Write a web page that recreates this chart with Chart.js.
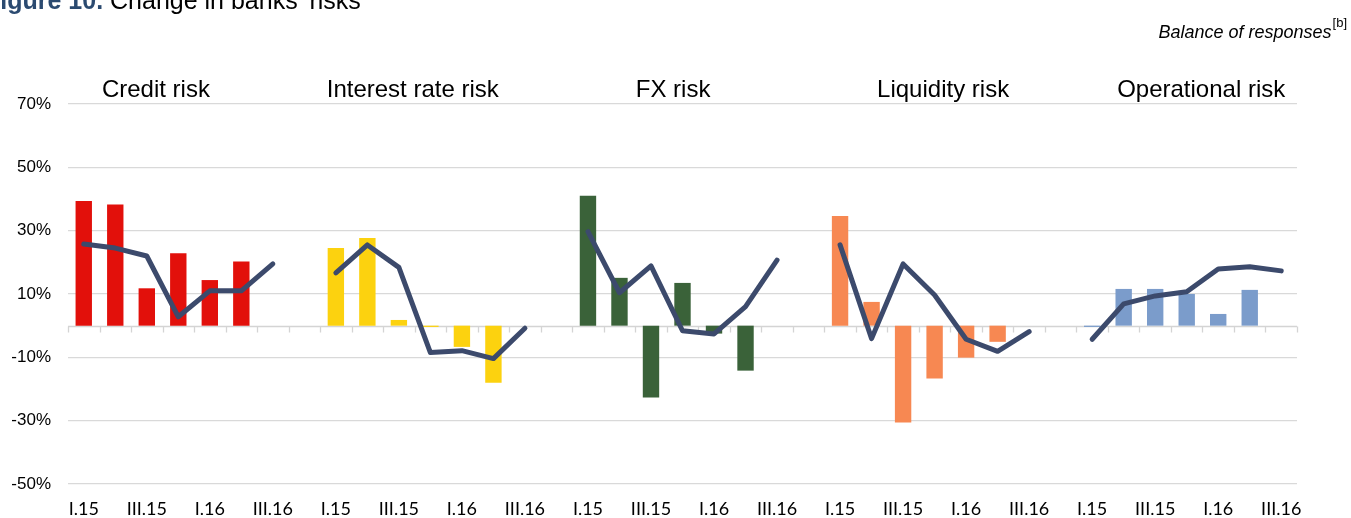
<!DOCTYPE html>
<html>
<head>
<meta charset="utf-8">
<script src="https://cdn.jsdelivr.net/npm/chart.js@4.4.1/dist/chart.umd.min.js"></script>
<style>
  html, body { margin: 0; padding: 0; background: #ffffff; }
  #wrap { position: relative; width: 1351px; height: 518px; }
</style>
</head>
<body>
<div id="wrap"><canvas id="c" width="1351" height="518"></canvas></div>
<script>
// Survey quarters shown for each risk type
const quarters = ['I.15', 'II.15', 'III.15', 'IV.15', 'I.16', 'II.16', 'III.16'];
const groupNames = ['Credit risk', 'Interest rate risk', 'FX risk', 'Liquidity risk', 'Operational risk'];
const groupColors = ['#e2100b', '#fcd20f', '#3a6239', '#f78852', '#7b9ccb'];
const lineColor = '#3c4a6c';
const yTickValues = [-50, -30, -10, 10, 30, 50, 70];

// Bars: balance of responses (%) per quarter
const creditBars      = [39.4, 38.3, 11.8, 22.9, 14.4, 20.3, null];
const interestBars    = [24.5, 27.7, 1.8, -0.4, -6.7, -18.0, null];
const fxBars          = [41.0, 15.1, -22.7, 13.5, -2.5, -14.2, null];
const liquidityBars   = [34.6, 7.5, -30.6, -16.7, -10.1, -5.1, null];
const operationalBars = [-0.4, 11.6, 11.6, 10.0, 3.7, 11.3, null];

// Line: balance of responses (%) per quarter
const creditLine      = [25.8, 24.5, 22.0, 2.8, 11.0, 11.0, 19.5];
const interestLine    = [16.7, 25.5, 18.4, -8.5, -7.9, -10.4, -0.8];
const fxLine          = [29.7, 10.4, 18.9, -1.6, -2.6, 6.0, 20.7];
const liquidityLine   = [25.5, -4.1, 19.5, 9.7, -4.3, -8.1, -1.9];
const operationalLine = [-4.3, 6.9, 9.4, 10.7, 17.9, 18.6, 17.3];

// Where each group heading sits, in category units
const headingAnchors = [2.29, 10.44, 18.7, 27.27, 35.46];

const barGroups = [creditBars, interestBars, fxBars, liquidityBars, operationalBars];
const lineGroups = [creditLine, interestLine, fxLine, liquidityLine, operationalLine];

// One shared category axis: the five groups separated by an empty slot
const categories = [];
const lineData = [];
groupNames.forEach((g, gi) => {
  quarters.forEach((q, qi) => {
    categories.push(q);
    lineData.push(lineGroups[gi][qi]);
  });
  if (gi < groupNames.length - 1) {
    categories.push('');
    lineData.push(null);
  }
});

const barDatasets = barGroups.map((vals, gi) => {
  const start = gi * (quarters.length + 1);
  const data = categories.map((_, i) => {
    const k = i - start;
    return (k >= 0 && k < quarters.length) ? vals[k] : null;
  });
  return {
    type: 'bar',
    label: groupNames[gi],
    data: data,
    backgroundColor: groupColors[gi],
    borderWidth: 0,
    grouped: false,
    barPercentage: 0.52,
    categoryPercentage: 1.0,
    order: 1
  };
});

const lineDataset = {
  type: 'line',
  label: 'Balance of responses',
  data: lineData,
  borderColor: lineColor,
  borderWidth: 5,
  pointRadius: 0,
  pointHoverRadius: 0,
  tension: 0,
  spanGaps: false,
  borderCapStyle: 'round',
  borderJoinStyle: 'round',
  order: 0
};

// Zero axis with category tick marks
const zeroAxis = {
  id: 'zeroAxis',
  beforeDatasetsDraw(chart) {
    const { ctx, chartArea, scales } = chart;
    const y0 = Math.round(scales.y.getPixelForValue(0)) + 0.5;
    ctx.save();
    ctx.strokeStyle = '#d4d4d4';
    ctx.lineWidth = 1.3;
    ctx.beginPath();
    ctx.moveTo(chartArea.left, y0);
    ctx.lineTo(chartArea.right, y0);
    for (let i = 0; i <= categories.length; i++) {
      const x = Math.round(scales.x.getPixelForValue(i - 0.5)) + 0.5;
      ctx.moveTo(x, y0);
      ctx.lineTo(x, y0 + 6);
    }
    ctx.stroke();
    ctx.restore();
  }
};

// Figure title, unit note and group headings
const textLayer = {
  id: 'textLayer',
  afterDraw(chart) {
    const { ctx, scales } = chart;
    ctx.save();
    ctx.textBaseline = 'alphabetic';

    // Figure title
    ctx.textAlign = 'left';
    ctx.font = 'bold 25px "Liberation Sans", Arial, sans-serif';
    ctx.fillStyle = '#2b4a70';
    const lead = 'Figure 10.';
    ctx.fillText(lead, -15, 9);
    const leadW = ctx.measureText(lead + ' ').width;
    ctx.font = '25px "Liberation Sans", Arial, sans-serif';
    ctx.fillStyle = '#000000';
    ctx.fillText("Change in banks' risks", -15 + leadW, 9);

    // Unit note
    ctx.font = '13px "Liberation Sans", Arial, sans-serif';
    ctx.textAlign = 'right';
    ctx.fillStyle = '#000000';
    ctx.fillText('[b]', 1347, 27);
    const supW = ctx.measureText('[b]').width;
    ctx.font = 'italic 18px "Liberation Sans", Arial, sans-serif';
    ctx.fillText('Balance of responses', 1347 - supW - 1, 38);

    // Group headings
    ctx.font = '24px "Liberation Sans", Arial, sans-serif';
    ctx.textAlign = 'center';
    groupNames.forEach((name, gi) => {
      const x = scales.x.getPixelForValue(headingAnchors[gi]);
      ctx.fillText(name, x, 97);
    });
    ctx.restore();
  }
};

new Chart(document.getElementById('c'), {
  data: {
    labels: categories,
    datasets: [lineDataset, ...barDatasets]
  },
  options: {
    responsive: false,
    animation: false,
    devicePixelRatio: 1,
    layout: { padding: { top: 104, right: 54, bottom: 0, left: 0 } },
    plugins: {
      legend: { display: false },
      tooltip: { enabled: false },
      title: { display: false }
    },
    scales: {
      x: {
        type: 'category',
        offset: true,
        grid: { display: false, drawTicks: false },
        border: { display: false },
        ticks: {
          autoSkip: false,
          maxRotation: 0,
          minRotation: 0,
          padding: 14,
          color: '#000000',
          font: { family: 'Lato, "Open Sans", sans-serif', size: 18 },
          callback(value, index) {
            const lab = categories[index];
            return (lab.startsWith('I.') || lab.startsWith('III.')) ? lab : '';
          }
        },
        afterFit(scale) { scale.height = 34; }
      },
      y: {
        min: -50,
        max: 70,
        afterBuildTicks(scale) {
          scale.ticks = yTickValues.map(v => ({ value: v }));
        },
        grid: { color: '#d9d9d9', lineWidth: 1.3, drawTicks: false },
        border: { display: false },
        ticks: {
          padding: 17,
          color: '#000000',
          font: { family: '"Liberation Sans", Arial, sans-serif', size: 17 },
          callback: v => v + '%'
        },
        afterFit(scale) { scale.width = 68; }
      }
    }
  },
  plugins: [zeroAxis, textLayer]
});
</script>
</body>
</html>
